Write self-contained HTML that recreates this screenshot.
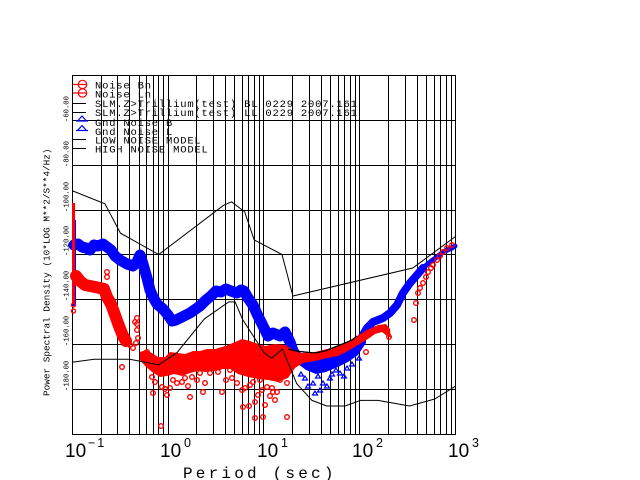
<!DOCTYPE html>
<html><head><meta charset="utf-8"><style>
html,body{margin:0;padding:0;background:#fff;}
svg{display:block;}
</style></head><body>
<svg width="640" height="480" viewBox="0 0 640 480" xmlns="http://www.w3.org/2000/svg">
<rect width="640" height="480" fill="#fff"/>

<!-- grid -->
<g stroke="#000" stroke-width="1" shape-rendering="crispEdges" fill="none">
<path d="M72.5 75V434M101.5 75V434M117.5 75V434M129.5 75V434M139.5 75V434M146.5 75V434M153.5 75V434M158.5 75V434M163.5 75V434
M168.5 75V434M196.5 75V434M213.5 75V434M225.5 75V434M234.5 75V434M242.5 75V434M248.5 75V434M254.5 75V434M259.5 75V434
M263.5 75V434M292.5 75V434M309.5 75V434M321.5 75V434M330.5 75V434M338.5 75V434M344.5 75V434M350.5 75V434M355.5 75V434
M359.5 75V434M388.5 75V434M405.5 75V434M417.5 75V434M426.5 75V434M434.5 75V434M440.5 75V434M446.5 75V434M451.5 75V434M455.5 75V434"/>
<path d="M72 75.5H456M72 120.5H456M72 165.5H456M72 210.5H456M72 254.5H456M72 299.5H456M72 344.5H456M72 389.5H456M72 434.5H456"/>
</g>

<!-- blue data -->
<g fill="none" stroke="#0000ff" stroke-linejoin="round" stroke-linecap="round">
<polyline stroke-width="11" points="74,245 78,244 82,247 86,248 90,250 94,245 98,246 103,244 107,247 111,250 115,256 120,260 127,264 133,266 137,262 140,255 143,264 147,278 150,290 153,297 157,304 163,309 168,315 172,321 176,320 180,318 190,313 200,306 206,300 211,296 216,291 221,292 226,289 231,291 237,293 241,290 244,291 248,298 253,305 257,314 261,322 265,330 268,336 273,333 280,336 285,332 290,342 293,351 297,357"/>
<polyline stroke-width="8" points="360,340 367,328 373,322 383,318 390,313 397,305 403,293 410,283 417,275 423,268"/>
<polyline stroke-width="5" points="423,268 430,262 437,257 443,252 452,248 455,246"/>
</g>
<rect x="72" y="220" width="4" height="86" fill="#0000ff"/>
<polygon fill="#0000ff" points="295,353 310,356 325,357 338,354 348,350 356,345 362,336 366,330 366,343 358,355 348,362 338,367 326,372 316,374 306,370 298,364"/>
<g fill="none" stroke="#0000ff" stroke-width="1.2">
<path d="M313,381 l-2.5,4 h5z M315,391 l-2.5,4 h5z M323,381 l-2.5,4 h5z M340,371 l-2.5,4 h5z M347,366 l-2.5,4 h5z M359,356 l-2.5,4 h5z M330,376 l-2.5,4 h5z M305,376 l-2.5,4 h5z M352,362 l-2.5,4 h5z M318,374 l-2.5,4 h5z M336,368 l-2.5,4 h5z M308,384 l-2.5,4 h5z M327,384 l-2.5,4 h5z M344,374 l-2.5,4 h5z M320,388 l-2.5,4 h5z M332,372 l-2.5,4 h5z M301,372 l-2.5,4 h5z"/>
</g>

<!-- red data -->
<rect x="72" y="203" width="3" height="100" fill="#ff0000"/>
<polyline fill="none" stroke="#ff0000" stroke-width="12" stroke-linejoin="round" stroke-linecap="round" points="76,276 80,281 85,285 90,286 95,287 100,288 104,289 107,297 111,304 115,315 119,326 123,336 126,341"/>
<polygon fill="#ff0000" points="140,352 146,350 152,353 158,357 165,357 170,352 178,353 185,354 193,351 200,351 207,349 215,349 222,347 228,345 235,342 242,339 250,341 258,344 265,346 275,344 285,345 292,349 300,353 315,352 327,349 337,346 347,342 357,336 367,330 378,325 386,324 390,329 391,338 387,336 382,332 375,334 368,339 358,345 348,351 338,356 327,358 315,361 303,363 295,368 288,378 278,382 268,380 258,379 248,377 238,374 230,369 222,369 214,371 206,372 198,371 190,373 182,376 174,374 167,376 160,377 152,372 145,366 140,360"/>
<g fill="none" stroke="#ff0000" stroke-width="1.4">
<circle cx="73.5" cy="305" r="2"/><circle cx="73.5" cy="311" r="2"/>
<circle cx="107" cy="272" r="2.3"/><circle cx="107" cy="277" r="2.3"/><circle cx="137" cy="318" r="2.3"/><circle cx="137" cy="324" r="2.3"/><circle cx="137" cy="330" r="2.3"/><circle cx="138" cy="338" r="2.3"/><circle cx="136" cy="343" r="2.3"/><circle cx="135" cy="322" r="2.3"/>
<circle cx="122" cy="367" r="2.3"/><circle cx="147" cy="352" r="2.3"/><circle cx="153" cy="393" r="2.3"/><circle cx="167" cy="395" r="2.3"/><circle cx="190" cy="397" r="2.3"/><circle cx="203" cy="392" r="2.3"/><circle cx="222" cy="392" r="2.3"/><circle cx="242" cy="390" r="2.3"/><circle cx="243" cy="407" r="2.3"/><circle cx="249" cy="406" r="2.3"/><circle cx="255" cy="402" r="2.3"/><circle cx="255" cy="418" r="2.3"/><circle cx="263" cy="417" r="2.3"/><circle cx="287" cy="417" r="2.3"/><circle cx="161" cy="426" r="2.3"/><circle cx="265" cy="405" r="2.3"/><circle cx="275" cy="400" r="2.3"/><circle cx="273" cy="392" r="2.3"/>
<circle cx="366" cy="352" r="2.3"/><circle cx="414" cy="320" r="2.3"/><circle cx="416" cy="303" r="2.3"/><circle cx="418" cy="293" r="2.3"/><circle cx="420" cy="288" r="2.3"/><circle cx="423" cy="283" r="2.3"/><circle cx="426" cy="277" r="2.3"/><circle cx="428" cy="272" r="2.3"/><circle cx="431" cy="268" r="2.3"/><circle cx="433" cy="265" r="2.3"/><circle cx="437" cy="260" r="2.3"/><circle cx="440" cy="256" r="2.3"/><circle cx="443" cy="252" r="2.3"/><circle cx="447" cy="248" r="2.3"/><circle cx="452" cy="245" r="2.3"/><circle cx="389" cy="337" r="2.3"/>
<circle cx="152" cy="377" r="2.3"/><circle cx="155" cy="382" r="2.3"/><circle cx="162" cy="387" r="2.3"/><circle cx="165" cy="389" r="2.3"/><circle cx="173" cy="380" r="2.3"/><circle cx="177" cy="383" r="2.3"/><circle cx="182" cy="382" r="2.3"/><circle cx="185" cy="378" r="2.3"/><circle cx="192" cy="377" r="2.3"/><circle cx="197" cy="380" r="2.3"/><circle cx="200" cy="373" r="2.3"/><circle cx="205" cy="383" r="2.3"/><circle cx="210" cy="373" r="2.3"/><circle cx="218" cy="372" r="2.3"/><circle cx="220" cy="367" r="2.3"/><circle cx="230" cy="370" r="2.3"/><circle cx="237" cy="383" r="2.3"/><circle cx="253" cy="382" r="2.3"/><circle cx="260" cy="380" r="2.3"/><circle cx="267" cy="387" r="2.3"/><circle cx="272" cy="388" r="2.3"/><circle cx="277" cy="392" r="2.3"/><circle cx="280" cy="380" r="2.3"/><circle cx="287" cy="383" r="2.3"/><circle cx="283" cy="373" r="2.3"/>
<circle cx="130" cy="345" r="2.3"/><circle cx="127" cy="340" r="2.3"/><circle cx="133" cy="348" r="2.3"/><circle cx="245" cy="388" r="2.3"/><circle cx="250" cy="385" r="2.3"/><circle cx="258" cy="395" r="2.3"/><circle cx="270" cy="396" r="2.3"/><circle cx="262" cy="390" r="2.3"/><circle cx="232" cy="378" r="2.3"/><circle cx="226" cy="380" r="2.3"/><circle cx="188" cy="386" r="2.3"/><circle cx="170" cy="388" r="2.3"/><circle cx="148" cy="362" r="2.3"/><circle cx="144" cy="357" r="2.3"/>
</g>

<!-- black traces and models -->
<g fill="none" stroke="#000" stroke-width="1">
<polyline stroke-width="1.3" points="288,349 296,351 305,352 315,353 325,351 335,347 345,343 352,340 357,336"/>
<polyline points="72,190.6 104.9,203.8 120.5,233.2 158.7,254.5 223.7,205.2 231.6,201.8 244.7,211.9 254.2,239.9 282,254.5 292.9,296 412.8,268 456,236.1"/>
<polyline points="72,362.2 94.1,359.3 129.8,359.3 158.7,364.9 177,352.6 204.5,318.8 228.8,301.9 235.1,301.9 242.7,319.6 264,352.7 271.6,358.3 282.5,349.1 296.7,383.6 312,400.4 326.7,406 345.1,406 360.4,400.4 378,400.4 409.5,406 434.7,399 456,385.8"/>
</g>

<!-- legend symbols -->
<g fill="none" stroke-width="1.2">
<circle cx="82.5" cy="84.5" r="4.2" stroke="#ff0000"/>
<circle cx="82.5" cy="93" r="4.2" stroke="#ff0000"/>
<path d="M73 84.5H87M73 93H87" stroke="#ff0000"/>
<path d="M73 103.5H86M73 112.5H86M73 139.5H86M73 148.5H86" stroke="#000" stroke-width="1"/>
<path d="M82,116 l-4.5,5 h9z M82,125.5 l-4.5,5 h9z M76 121H88M76 130.5H88" stroke="#0000ff"/>
</g>

<!-- legend text -->
<g font-family="Liberation Mono, monospace" font-size="10.5" letter-spacing="0.8" fill="#000">
<text x="95" y="88.5">Noise Bn</text>
<text x="95" y="97.5">Noise Ln</text>
<text x="95" y="107">SLM.Z&gt;Trillium(test) BL 0229 2007.161</text>
<text x="95" y="116">SLM.Z&gt;Trillium(test) LL 0229 2007.161</text>
<text x="95" y="126">Gnd Noise B</text>
<text x="95" y="135">Gnd Noise L</text>
<text x="95" y="143.5">LOW NOISE MODEL</text>
<text x="95" y="152.5">HIGH NOISE MODEL</text>
</g>

<!-- y tick labels -->
<g font-family="Liberation Mono, monospace" font-size="7.2" fill="#000">
<text transform="translate(68.5,122) rotate(-90)">-60.00</text>
<text transform="translate(68.5,167) rotate(-90)">-80.00</text>
<text transform="translate(68.5,212) rotate(-90)">-100.00</text>
<text transform="translate(68.5,256) rotate(-90)">-120.00</text>
<text transform="translate(68.5,301) rotate(-90)">-140.00</text>
<text transform="translate(68.5,346) rotate(-90)">-160.00</text>
<text transform="translate(68.5,391) rotate(-90)">-180.00</text>
</g>

<!-- y title -->
<text transform="translate(49.5,396) rotate(-90)" font-family="Liberation Mono, monospace" font-size="9.4" fill="#000">Power Spectral Density (10*LOG M**2/S**4/Hz)</text>

<!-- x tick labels -->
<g font-family="Liberation Sans, sans-serif" fill="#000">
<text x="65" y="457" font-size="19">10</text><text x="88" y="447" font-size="12.5" letter-spacing="2">−1</text>
<text x="160" y="457" font-size="19">10</text><text x="184" y="447" font-size="12.5">0</text>
<text x="257" y="457" font-size="19">10</text><text x="281" y="447" font-size="12.5">1</text>
<text x="352" y="457" font-size="19">10</text><text x="376" y="447" font-size="12.5">2</text>
<text x="448" y="457" font-size="19">10</text><text x="472" y="447" font-size="12.5">3</text>
</g>

<!-- x title -->
<text x="183" y="478" font-family="Liberation Mono, monospace" font-size="16" letter-spacing="3.2" fill="#000">Period (sec)</text>
</svg>
</body></html>
